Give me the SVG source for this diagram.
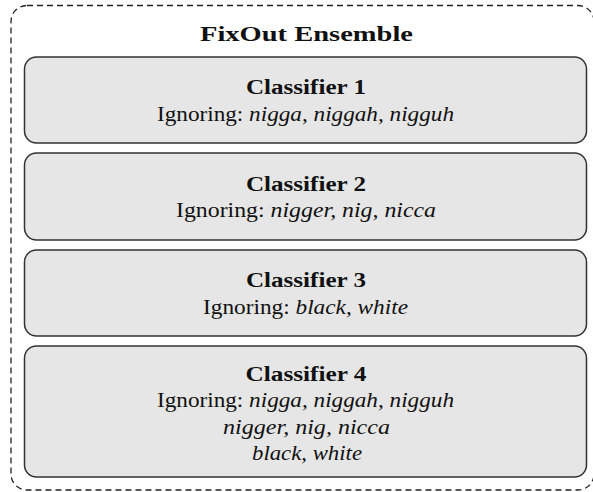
<svg xmlns="http://www.w3.org/2000/svg" width="593" height="492" viewBox="0 0 593 492">
<style>
.outer{fill:#fff;stroke:#222;stroke-width:1.3;stroke-dasharray:6,4}
.box{fill:#e6e6e6;stroke:#333;stroke-width:1.5}
text{font-family:"Liberation Serif","DejaVu Serif",serif;font-size:20px;fill:#111;text-anchor:middle}
.b{font-weight:bold}
.i{font-style:italic}
</style>
<rect width="593" height="492" fill="#fff"/>
<g id="ensemble">
<rect class="outer" x="11" y="5.5" width="583" height="484.5" rx="16"/>
<text class="b" x="306.5" y="40.5" textLength="213" lengthAdjust="spacingAndGlyphs">FixOut Ensemble</text>
</g>
<g id="classifier1">
<rect class="box" x="24.5" y="57" width="562" height="86" rx="12"/>
<text class="b" x="306" y="94" textLength="120" lengthAdjust="spacingAndGlyphs">Classifier 1</text>
<text x="305.5" y="120.5" textLength="297" lengthAdjust="spacingAndGlyphs">Ignoring: <tspan class="i">nigga, niggah, nigguh</tspan></text>
</g>
<g id="classifier2">
<rect class="box" x="24.5" y="153" width="562" height="87" rx="12"/>
<text class="b" x="306" y="190.5" textLength="120" lengthAdjust="spacingAndGlyphs">Classifier 2</text>
<text x="306" y="217" textLength="260" lengthAdjust="spacingAndGlyphs">Ignoring: <tspan class="i">nigger, nig, nicca</tspan></text>
</g>
<g id="classifier3">
<rect class="box" x="24.5" y="250" width="562" height="86" rx="12"/>
<text class="b" x="306" y="287" textLength="120" lengthAdjust="spacingAndGlyphs">Classifier 3</text>
<text x="305.5" y="313.5" textLength="205" lengthAdjust="spacingAndGlyphs">Ignoring: <tspan class="i">black, white</tspan></text>
</g>
<g id="classifier4">
<rect class="box" x="24.5" y="346" width="562" height="131" rx="12"/>
<text class="b" x="306" y="380.5" textLength="121" lengthAdjust="spacingAndGlyphs">Classifier 4</text>
<text x="305.5" y="406.5" textLength="297" lengthAdjust="spacingAndGlyphs">Ignoring: <tspan class="i">nigga, niggah, nigguh</tspan></text>
<text class="i" x="306.5" y="433.5" textLength="167" lengthAdjust="spacingAndGlyphs">nigger, nig, nicca</text>
<text class="i" x="307" y="460" textLength="110" lengthAdjust="spacingAndGlyphs">black, white</text>
</g>
<g id="connectors"></g>
</svg>
